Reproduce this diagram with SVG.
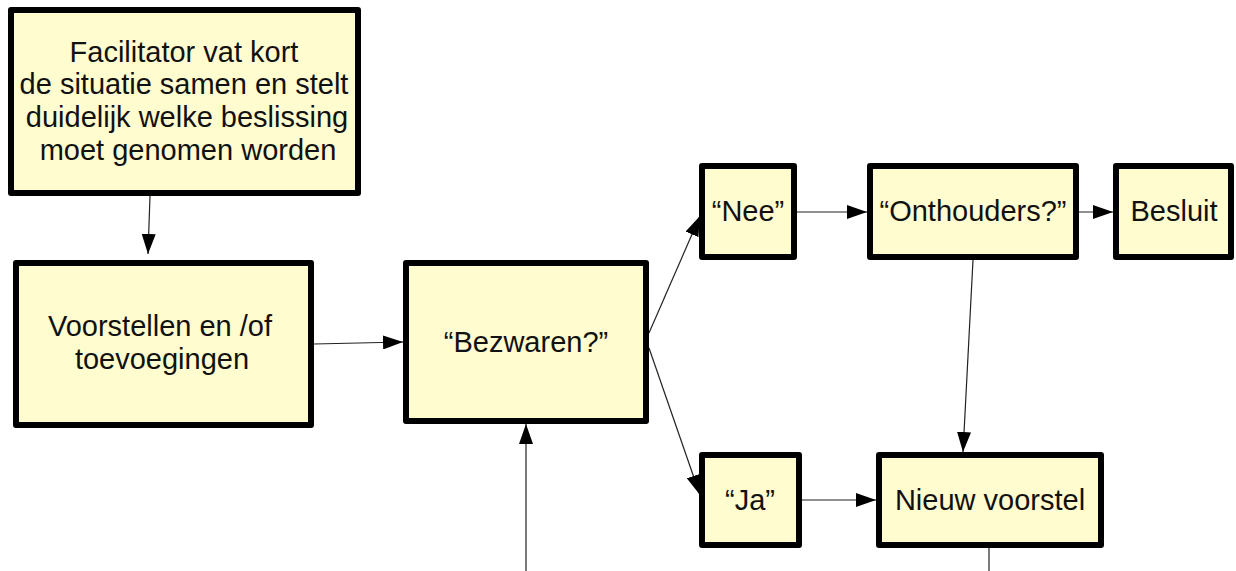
<svg xmlns="http://www.w3.org/2000/svg" width="1236" height="571" viewBox="0 0 1236 571">
  <style>
    .box { fill: #fffccf; stroke: #000; stroke-width: 6; stroke-linejoin: round; }
    .lbl { font-family: "Liberation Sans", Arial, sans-serif; font-size: 29px; fill: #111; text-anchor: middle; }
    .con { stroke: #222; stroke-width: 1.2; fill: none; }
  </style>
  <defs>
    <marker id="arr" markerUnits="userSpaceOnUse" markerWidth="20" markerHeight="14" refX="20" refY="7" orient="auto">
      <path d="M0,0 L20,7 L0,14 z" fill="#000"/>
    </marker>
  </defs>
  <rect width="1236" height="571" fill="#fff"/>

  <g id="connectors">
    <line class="con" x1="150" y1="196" x2="148" y2="254" marker-end="url(#arr)"/>
    <line class="con" x1="314" y1="344" x2="403" y2="342" marker-end="url(#arr)"/>
    <line class="con" x1="649" y1="333" x2="700" y2="216" marker-end="url(#arr)"/>
    <line class="con" x1="649" y1="348" x2="700" y2="495" marker-end="url(#arr)"/>
    <line class="con" x1="797" y1="212" x2="867" y2="212" marker-end="url(#arr)"/>
    <line class="con" x1="1079" y1="212" x2="1113" y2="212" marker-end="url(#arr)"/>
    <line class="con" x1="973" y1="260" x2="963" y2="452" marker-end="url(#arr)"/>
    <line class="con" x1="802" y1="500" x2="876" y2="500" marker-end="url(#arr)"/>
    <line class="con" x1="526" y1="571" x2="526" y2="424" marker-end="url(#arr)"/>
    <line class="con" x1="989" y1="548" x2="989" y2="571"/>
  </g>

  <g id="facilitator">
    <rect class="box" x="11" y="10" width="347" height="183"/>
    <text class="lbl" x="184" y="62">Facilitator vat kort</text>
    <text class="lbl" x="184" y="94">de situatie samen en stelt</text>
    <text class="lbl" x="187" y="127">duidelijk welke beslissing</text>
    <text class="lbl" x="188" y="160">moet genomen worden</text>
  </g>

  <g id="voorstellen">
    <rect class="box" x="16" y="263" width="295" height="162"/>
    <text class="lbl" x="160" y="336">Voorstellen en /of</text>
    <text class="lbl" x="162" y="369">toevoegingen</text>
  </g>

  <g id="bezwaren">
    <rect class="box" x="406" y="263" width="240" height="158"/>
    <text class="lbl" x="526" y="352">“Bezwaren?”</text>
  </g>

  <g id="nee">
    <rect class="box" x="702" y="166" width="92" height="91"/>
    <text class="lbl" x="748" y="221">“Nee”</text>
  </g>

  <g id="onthouders">
    <rect class="box" x="870" y="166" width="206" height="91"/>
    <text class="lbl" x="973" y="221">“Onthouders?”</text>
  </g>

  <g id="besluit">
    <rect class="box" x="1116" y="166" width="115" height="91"/>
    <text class="lbl" x="1174" y="221">Besluit</text>
  </g>

  <g id="ja">
    <rect class="box" x="702" y="455" width="97" height="90"/>
    <text class="lbl" x="750" y="510">“Ja”</text>
  </g>

  <g id="nieuw-voorstel">
    <rect class="box" x="879" y="455" width="222" height="90"/>
    <text class="lbl" x="990" y="510">Nieuw voorstel</text>
  </g>
</svg>
